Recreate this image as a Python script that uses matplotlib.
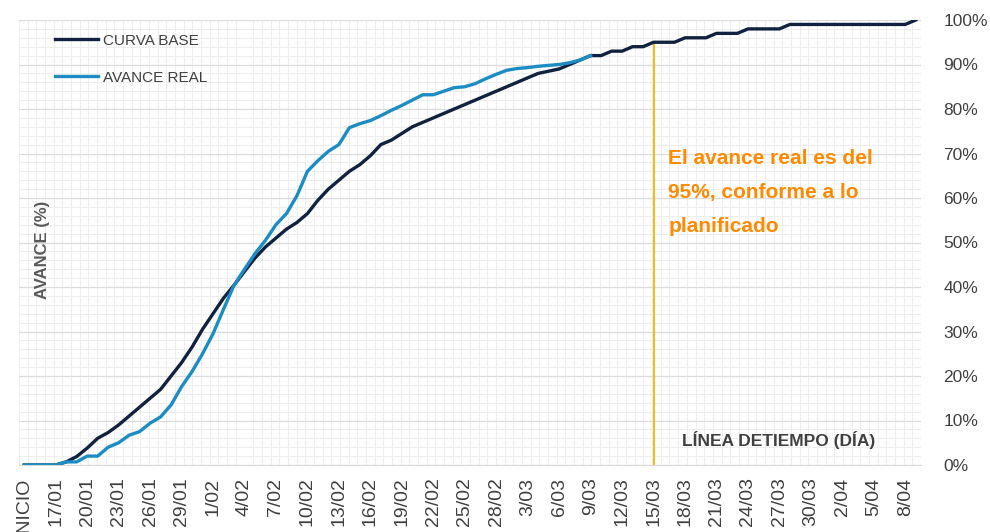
import numpy as np
import matplotlib.pyplot as plt
import matplotlib
import pandas as pd
from matplotlib.ticker import FixedLocator, MultipleLocator

matplotlib.rcParams["figure.dpi"] = 100
matplotlib.rcParams["font.family"] = ["Liberation Sans", "DejaVu Sans"]

# daily categories, first one is the start
dates = pd.date_range("2023-01-14", "2023-04-09", freq="D")
categories = ["INICIO"] + [f"{d.day}/{d.month:02d}" for d in dates[1:]]

curva_base = [0, 0, 0, 0, 0.7, 1.9, 3.8, 6, 7.3, 9,
              11, 13, 15, 17, 20, 23, 26.5, 30.5, 34, 37.5,
              40.4, 43.5, 46.5, 49, 51, 53, 54.5, 56.5, 59.5, 62,
              64, 66, 67.5, 69.5, 72, 73, 74.5, 76, 77, 78,
              79, 80, 81, 82, 83, 84, 85, 86, 87, 88,
              88.5, 89, 90, 91, 92, 92, 93, 93, 94, 94,
              95, 95, 95, 96, 96, 96, 97, 97, 97, 98,
              98, 98, 98, 99, 99, 99, 99, 99, 99, 99,
              99, 99, 99, 99, 99, 100]
avance_real = [0, 0, 0, 0, 0.7, 0.7, 2, 2, 4, 5,
               6.7, 7.5, 9.4, 10.8, 13.5, 17.6, 21, 25, 29.5, 35,
               40.4, 44, 47.5, 50.5, 54, 56.5, 60.5, 66, 68.4, 70.5,
               72, 75.8, 76.7, 77.4, 78.5, 79.7, 80.8, 82, 83.2, 83.2,
               84, 84.8, 85, 85.7, 86.8, 87.8, 88.7, 89.1, 89.3, 89.6,
               89.8, 90, 90.4, 91, 92]
y_ticks = list(range(0, 101, 10))
corte_fecha = "15/03"
corte_valor = 95

x = np.arange(len(categories))

fig = plt.figure(figsize=(9.9, 5.32))
ax = fig.add_axes([19/990, 1-465/532, (921-19)/990, (465-20)/532])

ax.plot(x, curva_base, color="#10223f", lw=2.4, label="CURVA BASE", zorder=3)
ax.plot(x[:len(avance_real)], avance_real, color="#1b8cc4", lw=2.4,
        label="AVANCE REAL", zorder=4)

xc = categories.index(corte_fecha)
ax.vlines(xc, 0, corte_valor, color="#f5b400", lw=1.3, zorder=2)

ax.set_xlim(-0.5, len(categories) - 0.5)
ax.set_ylim(0, 100)

# background grid
ax.set_yticks(y_ticks)
ax.yaxis.set_minor_locator(MultipleLocator(2))
ax.xaxis.set_minor_locator(FixedLocator(np.linspace(-0.5, len(categories) - 0.5, 105)))
ax.grid(which="minor", color="#eeeeee", lw=0.8)
ax.grid(which="major", axis="y", color="#dcdcdc", lw=0.9)
ax.set_axisbelow(True)

ticks = x[::3]
ax.set_xticks(ticks)
ax.set_xticklabels([categories[i] for i in ticks], rotation=90, fontsize=14,
                   color="#404040")
ax.tick_params(axis="x", which="both", length=0, pad=9)
ax.yaxis.tick_right()
ax.set_yticklabels([f"{v}%" for v in y_ticks], fontsize=12.5, color="#404040")
ax.tick_params(axis="y", which="both", length=0, pad=16)

for s in ["left", "right", "top"]:
    ax.spines[s].set_visible(False)
ax.spines["bottom"].set_color("#d9d9d9")

leg = ax.legend(loc="upper left", bbox_to_anchor=(0.025, 1.0), frameon=False,
                handlelength=2.8, handletextpad=0.35, labelspacing=1.5,
                prop={"size": 11})
for t in leg.get_texts():
    t.set_color("#404040")

ax.text(xc + 1.4, 71, "El avance real es del\n95%, conforme a lo\nplanificado",
        color="#ff8a00", fontsize=15, fontweight="bold",
        va="top", ha="left", linespacing=2.0)
ax.text(xc + 2.7, 3.5, "LÍNEA DETIEMPO (DÍA)", color="#404040", fontsize=12.5,
        fontweight="bold", ha="left", va="bottom")
fig.text(42/990, 1-250/532, "AVANCE (%)", rotation=90, color="#595959", fontsize=12,
         fontweight="bold", ha="center", va="center")

plt.savefig("out.png")
